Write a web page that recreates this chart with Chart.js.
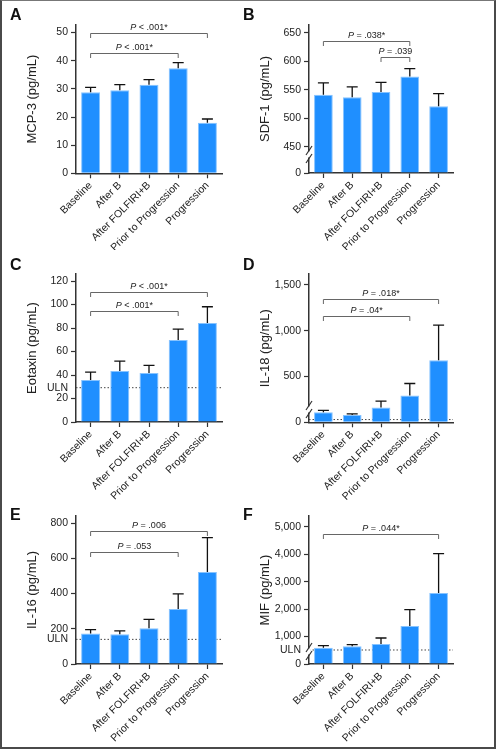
<!DOCTYPE html>
<html>
<head>
<meta charset="utf-8">
<script src="https://cdn.jsdelivr.net/npm/chart.js@4.4.1/dist/chart.umd.min.js"></script>
<style>
  body { margin: 0; background: #fff; }
  #page { position: relative; width: 496px; height: 749px; overflow: hidden; }
  #page canvas { position: absolute; }
  #frame { position: absolute; left: 0; top: 0; width: 496px; height: 749px; box-sizing: border-box;
    border: 2px solid #4a4a4a; border-top: 1px solid #777; pointer-events: none; }
</style>
</head>
<body>
<div id="page">
  <canvas id="chartA" width="240" height="250" style="left:0;top:0"></canvas>
  <canvas id="chartB" width="256" height="250" style="left:240px;top:0"></canvas>
  <canvas id="chartC" width="240" height="250" style="left:0;top:250px"></canvas>
  <canvas id="chartD" width="256" height="250" style="left:240px;top:250px"></canvas>
  <canvas id="chartE" width="240" height="249" style="left:0;top:500px"></canvas>
  <canvas id="chartF" width="256" height="249" style="left:240px;top:500px"></canvas>
  <div id="frame"></div>
</div>
<script>
const categories = ['Baseline', 'After B', 'After FOLFIRI+B', 'Prior to Progression', 'Progression'];

// means and top of error bar, pg/mL
const mcp3Mean = [28.8, 29.5, 31.5, 37.3, 18.0];
const mcp3Upper = [30.5, 31.5, 33.3, 39.3, 19.3];
const sdf1Mean = [541, 537, 546, 573, 521];
const sdf1Upper = [562, 555, 563, 587, 543];
const eotaxinMean = [35.7, 43.4, 41.7, 69.8, 84.3];
const eotaxinUpper = [42.5, 51.9, 48.2, 79.1, 98.1];
const il18Mean = [109, 79, 163, 293, 677];
const il18Upper = [130, 93, 231, 424, 1061];
const il16Mean = [174, 169, 203, 312, 523];
const il16Upper = [195, 188, 254, 398, 718];
const mifMean = [595, 646, 730, 1387, 2591];
const mifUpper = [668, 704, 949, 1982, 4026];

// tick labels
const mcp3Ticks = [0, 10, 20, 30, 40, 50];
const sdf1Ticks = [0, 450, 500, 550, 600, 650];
const eotaxinTicks = [0, 20, 40, 60, 80, 100, 120];
const il18Ticks = [0, 500, 1000, 1500];
const il16Ticks = [0, 200, 400, 600, 800];
const mifTicks = [0, 1000, 2000, 3000, 4000, 5000];

// upper limit of normal
const eotaxinULN = 29.2;
const il18ULN = 30;
const il16ULN = 140;
const mifULN = 511;

// significance brackets: category index from/to, level in pg/mL
const mcp3Brackets = [
  { from: 0, to: 4, level: 49.7, label: '< .001*' },
  { from: 0, to: 3, level: 42.9, label: '< .001*' },
];
const sdf1Brackets = [
  { from: 0, to: 3, level: 636, label: '= .038*' },
  { from: 2, to: 3, level: 607, label: '= .039' },
];
const eotaxinBrackets = [
  { from: 0, to: 4, level: 110.6, label: '< .001*' },
  { from: 0, to: 3, level: 94.2, label: '< .001*' },
];
const il18Brackets = [
  { from: 0, to: 4, level: 1350, label: '= .018*' },
  { from: 0, to: 3, level: 1165, label: '= .04*' },
];
const il16Brackets = [
  { from: 0, to: 4, level: 756, label: '= .006' },
  { from: 0, to: 3, level: 638, label: '= .053' },
];
const mifBrackets = [
  { from: 0, to: 4, level: 4755, label: '= .044*' },
];

const FONT = '"Liberation Sans", Arial, Helvetica, sans-serif';
const BAR = '#1f8fff';
const BAR_EDGE = '#86c3ff';
const AXIS = '#333';

// SDF-1 axis is broken between 0 and 450
function sdf1Map(v) {
  return v >= 450 ? v - 404 : v * 46 / 450;
}

const extras = {
  id: 'extras',
  beforeDatasetsDraw(chart, args, o) {
    if (o.uln == null) return;
    const ctx = chart.ctx, a = chart.chartArea;
    const y = chart.scales.y.getPixelForValue(o.map(o.uln));
    ctx.save();
    ctx.strokeStyle = '#444';
    ctx.lineWidth = 1;
    ctx.setLineDash([1.5, 2]);
    ctx.beginPath();
    ctx.moveTo(a.left, y);
    ctx.lineTo(a.right, y);
    ctx.stroke();
    ctx.restore();
  },
  afterDatasetsDraw(chart, args, o) {
    const ctx = chart.ctx;
    const ys = chart.scales.y;
    const meta = chart.getDatasetMeta(0);
    ctx.save();
    ctx.strokeStyle = '#111';
    ctx.lineWidth = 1.3;
    meta.data.forEach((bar, i) => {
      const yt = ys.getPixelForValue(o.map(o.upper[i]));
      ctx.beginPath();
      ctx.moveTo(bar.x, bar.y);
      ctx.lineTo(bar.x, yt);
      ctx.moveTo(bar.x - 5.5, yt);
      ctx.lineTo(bar.x + 5.5, yt);
      ctx.stroke();
    });
    ctx.restore();
  },
  afterDraw(chart, args, o) {
    const ctx = chart.ctx, a = chart.chartArea;
    const xs = chart.scales.x, ys = chart.scales.y;
    ctx.save();

    // brackets
    o.brackets.forEach(b => {
      const x1 = xs.getPixelForValue(b.from), x2 = xs.getPixelForValue(b.to);
      const y = Math.round(ys.getPixelForValue(o.map(b.level))) + 0.5;
      ctx.strokeStyle = '#666';
      ctx.lineWidth = 1;
      ctx.beginPath();
      ctx.moveTo(x1, y + 4.5);
      ctx.lineTo(x1, y);
      ctx.lineTo(x2, y);
      ctx.lineTo(x2, y + 4.5);
      ctx.stroke();
      ctx.fillStyle = '#222';
      ctx.textBaseline = 'alphabetic';
      ctx.font = 'italic 9px ' + FONT;
      const wp = ctx.measureText('P ').width;
      ctx.font = '9px ' + FONT;
      const wr = ctx.measureText(b.label).width;
      let x = (x1 + x2) / 2 - (wp + wr) / 2;
      ctx.textAlign = 'left';
      ctx.font = 'italic 9px ' + FONT;
      ctx.fillText('P ', x, y - 4);
      ctx.font = '9px ' + FONT;
      ctx.fillText(b.label, x + wp, y - 4);
    });

    // ULN label
    if (o.uln != null && o.ulnLabel) {
      const y = ys.getPixelForValue(o.map(o.uln));
      ctx.fillStyle = '#222';
      ctx.font = '10.5px ' + FONT;
      ctx.textAlign = 'right';
      ctx.textBaseline = 'middle';
      ctx.fillText('ULN', a.left - 8, y);
    }

    // axis break
    if (o.brk != null) {
      const y = ys.getPixelForValue(o.map(o.brk));
      const x = a.left;
      ctx.fillStyle = '#fff';
      ctx.fillRect(x - 1.5, y - 3, 3, 6);
      ctx.strokeStyle = AXIS;
      ctx.lineWidth = 1.2;
      [-4, 4].forEach(d => {
        ctx.beginPath();
        ctx.moveTo(x - 3, y + d + 4.5);
        ctx.lineTo(x + 3, y + d - 4.5);
        ctx.stroke();
      });
    }

    // panel letter
    ctx.fillStyle = '#111';
    ctx.font = 'bold 16px ' + FONT;
    ctx.textAlign = 'left';
    ctx.textBaseline = 'top';
    ctx.fillText(o.letter, o.letterX, 8);
    ctx.restore();
  }
};

function makePanel(id, letter, title, means, upper, tickVals, g) {
  const map = g.map || (v => v);
  new Chart(document.getElementById(id), {
    type: 'bar',
    data: {
      labels: categories,
      datasets: [{
        data: means.map(map),
        backgroundColor: BAR,
        borderColor: BAR_EDGE,
        borderWidth: 1,
        borderSkipped: 'bottom',
        barPercentage: 0.65,
        categoryPercentage: 1,
      }],
    },
    options: {
      responsive: false,
      animation: false,
      layout: { padding: { top: g.top, right: g.right, left: 0, bottom: 0 } },
      plugins: {
        legend: { display: false },
        tooltip: { enabled: false },
        extras: {
          letter: letter,
          letterX: g.letterX,
          upper: upper,
          brackets: g.brackets,
          uln: g.uln,
          ulnLabel: g.ulnLabel,
          brk: g.brk,
          map: map,
        },
      },
      scales: {
        x: {
          grid: { display: true, drawOnChartArea: false, offset: false, tickLength: 5, color: AXIS, tickColor: AXIS, tickWidth: 1.2 },
          border: { color: AXIS, width: 1.5 },
          ticks: {
            minRotation: 45, maxRotation: 45, autoSkip: false, padding: 1,
            color: '#222', font: { family: FONT, size: 10.5 },
          },
          afterFit: s => { s.height = g.xh; },
        },
        y: {
          min: 0,
          max: g.max,
          grid: { display: true, drawOnChartArea: false, tickLength: 5, color: AXIS, tickColor: AXIS, tickWidth: 1.2 },
          border: { color: AXIS, width: 1.5 },
          afterBuildTicks: s => { s.ticks = tickVals.map(v => ({ value: map(v) })); },
          ticks: {
            padding: 3,
            color: '#222',
            font: { family: FONT, size: 10.5 },
            callback: (v, i) => tickVals[i].toLocaleString('en-US'),
          },
          title: {
            display: true,
            text: title,
            color: '#222',
            font: { family: FONT, size: 13 },
            padding: { top: g.tp, bottom: 0 },
          },
          afterFit: s => { s.width = g.yw; },
        },
      },
    },
    plugins: [extras],
  });
}

const left = { yw: 76, right: 18, tp: 25, letterX: 10 };
const right = { yw: 69, right: 43, tp: 18, letterX: 3 };

makePanel('chartA', 'A', 'MCP-3 (pg/mL)', mcp3Mean, mcp3Upper, mcp3Ticks,
  { ...left, top: 25, xh: 76.7, max: 52.7, brackets: mcp3Brackets });
makePanel('chartB', 'B', 'SDF-1 (pg/mL)', sdf1Mean, sdf1Upper, sdf1Ticks,
  { ...right, top: 25, xh: 77, max: 259.5, brackets: sdf1Brackets, map: sdf1Map, brk: 318 });
makePanel('chartC', 'C', 'Eotaxin (pg/mL)', eotaxinMean, eotaxinUpper, eotaxinTicks,
  { ...left, top: 24, xh: 78, max: 126, brackets: eotaxinBrackets, uln: eotaxinULN, ulnLabel: true });
makePanel('chartD', 'D', 'IL-18 (pg/mL)', il18Mean, il18Upper, il18Ticks,
  { ...right, top: 24, xh: 77.7, max: 1620, brackets: il18Brackets, uln: il18ULN, ulnLabel: false, brk: 140 });
makePanel('chartE', 'E', 'IL-16 (pg/mL)', il16Mean, il16Upper, il16Ticks,
  { ...left, top: 16, xh: 85, max: 841, brackets: il16Brackets, uln: il16ULN, ulnLabel: true });
makePanel('chartF', 'F', 'MIF (pg/mL)', mifMean, mifUpper, mifTicks,
  { ...right, top: 16, xh: 85, max: 5401, brackets: mifBrackets, uln: mifULN, ulnLabel: true, brk: 456 });
</script>
</body>
</html>
